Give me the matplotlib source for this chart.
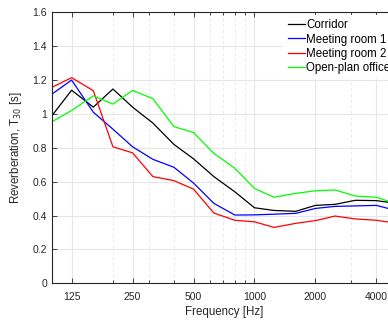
import numpy as np
import matplotlib
matplotlib.use("Agg")
import matplotlib.pyplot as plt
from matplotlib.ticker import FixedLocator, LogLocator, NullFormatter

plt.rcParams['font.family'] = ['Liberation Sans', 'DejaVu Sans']

freqs = [100, 125, 160, 200, 250, 315, 400, 500, 630, 800, 1000,
         1250, 1600, 2000, 2500, 3150, 4000, 5000]
corridor = [0.99, 1.14, 1.04, 1.147, 1.04, 0.946, 0.82, 0.735, 0.63, 0.54,
            0.446, 0.43, 0.425, 0.46, 0.466, 0.49, 0.488, 0.472]
meeting1 = [1.117, 1.2, 1.01, 0.91, 0.806, 0.732, 0.685, 0.592, 0.472, 0.403,
            0.404, 0.408, 0.413, 0.442, 0.454, 0.457, 0.46, 0.43]
meeting2 = [1.157, 1.214, 1.137, 0.806, 0.77, 0.63, 0.606, 0.556, 0.415, 0.372,
            0.363, 0.33, 0.354, 0.37, 0.397, 0.38, 0.372, 0.355]
openplan = [0.954, 1.02, 1.107, 1.058, 1.139, 1.09, 0.925, 0.89, 0.767, 0.679,
            0.56, 0.508, 0.531, 0.546, 0.551, 0.515, 0.508, 0.47]
labels = ['Corridor', 'Meeting room 1', 'Meeting room 2', 'Open-plan office']
xticks = [125, 250, 500, 1000, 2000, 4000]

txt = '#262626'
dpi = 100
fig = plt.figure(dpi=dpi, figsize=(388 / dpi, 320 / dpi))
ax = fig.add_axes([0.134, 0.1147, 0.8866, 0.8469])

ax.plot(freqs, corridor, color='k', lw=0.9, label=labels[0])
ax.plot(freqs, meeting1, color='#0000ff', lw=0.9, label=labels[1])
ax.plot(freqs, meeting2, color='#ff0000', lw=0.9, label=labels[2])
ax.plot(freqs, openplan, color='#00ff00', lw=0.9, label=labels[3])

ax.set_xscale('log')
ax.set_xlim(100, 5000)
ax.set_ylim(0, 1.6)
ax.xaxis.set_major_locator(FixedLocator(xticks))
ax.set_xticklabels([str(t) for t in xticks])
ax.xaxis.set_minor_locator(LogLocator(base=10, subs=np.arange(1, 10)))
ax.xaxis.set_minor_formatter(NullFormatter())
ax.set_yticks(np.arange(0, 1.61, 0.2))
ax.set_yticklabels(['0', '0.2', '0.4', '0.6', '0.8', '1', '1.2', '1.4', '1.6'])

ax.grid(True, which='major', color='#e6e6e6', lw=0.8, ls='-')
ax.grid(True, which='minor', axis='x', color='#e9e9e9', lw=0.7, ls=(0, (3, 3)))
ax.set_axisbelow(True)

ax.tick_params(which='both', direction='in', top=True, right=True,
               colors=txt, labelsize=7.5, width=0.6)
ax.tick_params(which='major', length=3.5)
ax.tick_params(axis='x', which='major', pad=6)
ax.tick_params(which='minor', length=2)
for s in ax.spines.values():
    s.set_color(txt)
    s.set_linewidth(0.8)

ax.set_xlabel('Frequency [Hz]', fontsize=8.3, color=txt, labelpad=3)
ax.set_ylabel('Reverberation, T$_{30}$ [s]', fontsize=8.3, color=txt, labelpad=6)

leg = ax.legend(loc='upper left', bbox_to_anchor=(0.665, 1.0), frameon=True,
                fontsize=8.3, handlelength=1.5, handletextpad=0.1,
                labelspacing=0.2, borderaxespad=0.2, fancybox=False)
leg.get_frame().set_edgecolor('none')
leg.get_frame().set_facecolor('white')
leg.get_frame().set_alpha(1)

fig.savefig('out.png', dpi=dpi)
